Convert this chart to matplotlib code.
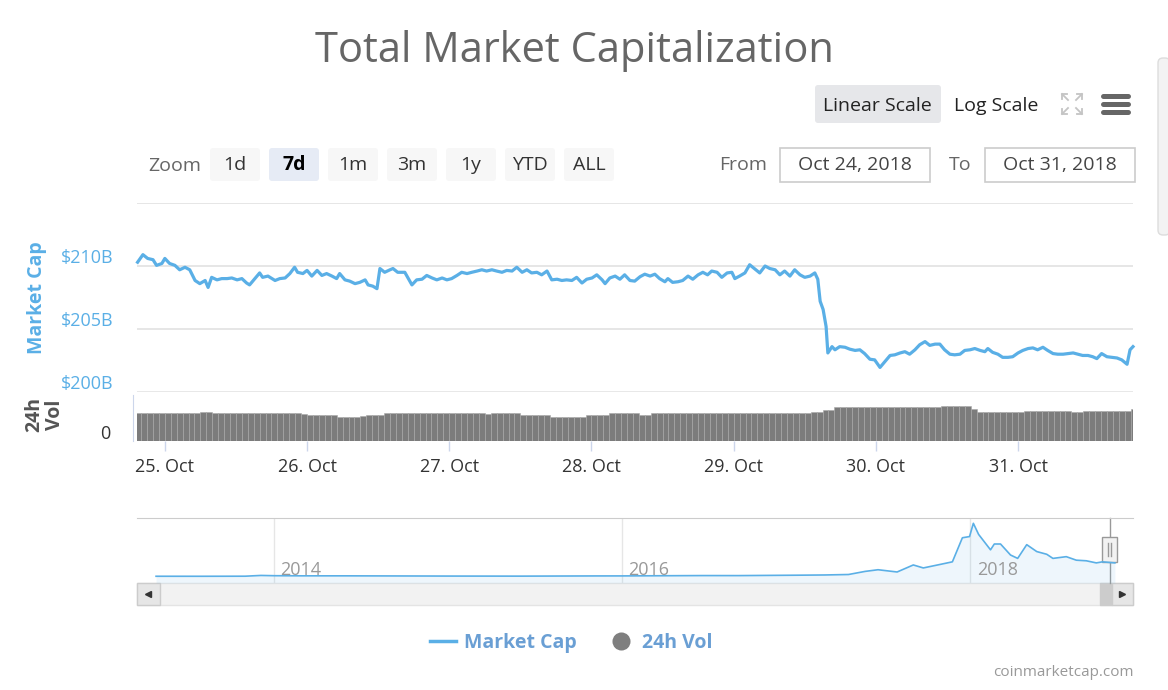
import numpy as np
import pandas as pd
import matplotlib
matplotlib.use("Agg")
import matplotlib.pyplot as plt
import matplotlib.dates as mdates
import matplotlib.transforms as mtrans
from matplotlib.patches import FancyBboxPatch, Rectangle

# ---------------- DATA ----------------
# market cap (billion USD), time in hours from 25 Oct 2018 00:00
mc_hours = [
    -4.6, -3.7, -2.9, -2.0, -1.4, -0.5, 0.0, 0.8, 1.7, 2.5,
    3.4, 4.2, 5.1, 5.9, 6.8, 7.3, 7.9, 8.8, 9.6, 10.5,
    11.3, 12.2, 13.0, 13.8, 14.3, 15.2, 16.0, 16.5, 17.4, 18.6,
    19.4, 20.3, 21.1, 21.9, 22.4, 23.3, 24.0, 24.8, 25.7, 26.5,
    27.3, 28.2, 29.0, 29.5, 30.4, 31.2, 32.1, 32.9, 33.8, 34.3,
    35.1, 35.8, 36.3, 37.1, 38.0, 38.5, 39.3, 40.5, 41.7, 42.5,
    43.4, 44.2, 45.1, 45.9, 46.8, 47.6, 48.4, 49.3, 50.1, 51.0,
    51.8, 52.7, 53.5, 54.3, 55.2, 56.0, 56.9, 57.7, 58.6, 59.4,
    60.3, 61.1, 61.9, 62.8, 63.6, 64.5, 65.3, 66.2, 67.0, 67.8,
    68.7, 69.5, 70.4, 71.2, 72.1, 72.9, 73.8, 74.3, 75.1, 76.0,
    76.8, 77.6, 78.5, 79.3, 80.2, 81.0, 81.9, 82.7, 83.5, 84.4,
    84.9, 85.7, 86.6, 87.4, 88.3, 89.1, 90.0, 90.8, 91.6, 92.3,
    93.2, 94.0, 94.9, 95.7, 96.2, 97.0, 97.9, 98.7, 99.6, 100.4,
    101.3, 102.1, 103.0, 103.8, 104.6, 105.5, 106.3, 107.2, 108.0, 108.9,
    109.7, 110.2, 110.6, 111.1, 111.6, 111.9, 112.6, 113.1, 113.9, 114.8,
    115.6, 116.5, 117.3, 118.1, 119.0, 119.8, 120.7, 121.5, 122.4, 123.2,
    124.1, 124.9, 125.7, 126.6, 127.4, 128.3, 129.1, 130.0, 130.8, 131.6,
    132.5, 133.3, 134.2, 135.0, 135.9, 136.7, 137.6, 138.4, 138.9, 139.7,
    140.6, 141.4, 142.3, 143.1, 144.0, 144.8, 145.7, 146.5, 147.3, 148.2,
    149.0, 149.9, 150.7, 151.6, 152.4, 153.3, 154.1, 154.9, 155.8, 156.6,
    157.3, 158.1, 159.0, 159.8, 160.7, 161.5, 162.4, 162.9, 163.4,
]
mc_values = [
    210.3, 210.9, 210.6, 210.5, 210.05, 210.2, 210.6, 210.2, 210.05, 209.7,
    209.9, 209.7, 208.85, 208.6, 208.85, 208.3, 209.1, 208.9, 209.0, 209.0,
    209.05, 208.9, 209.0, 208.65, 208.5, 209.0, 209.45, 209.1, 209.2, 208.85,
    209.0, 209.05, 209.4, 209.9, 209.5, 209.4, 209.65, 209.2, 209.65, 209.25,
    209.4, 209.2, 209.0, 209.4, 208.9, 208.8, 208.6, 208.7, 208.9, 208.5,
    208.4, 208.2, 209.8, 209.5, 209.7, 209.8, 209.5, 209.5, 208.5, 208.9,
    208.95, 209.25, 209.05, 208.9, 209.05, 208.9, 209.0, 209.25, 209.5, 209.4,
    209.5, 209.6, 209.7, 209.6, 209.7, 209.6, 209.5, 209.65, 209.6, 209.9,
    209.5, 209.7, 209.45, 209.5, 209.3, 209.6, 208.9, 208.95, 208.85, 208.9,
    208.85, 209.1, 208.65, 208.95, 209.05, 209.3, 208.9, 208.6, 209.05, 209.2,
    208.95, 209.3, 208.85, 208.8, 209.15, 209.35, 209.2, 209.35, 209.0, 208.75,
    209.0, 208.7, 208.75, 208.85, 209.2, 208.95, 209.3, 209.5, 209.3, 209.6,
    209.5, 209.1, 209.45, 209.5, 209.0, 209.2, 209.45, 210.1, 209.75, 209.45,
    210.0, 209.8, 209.7, 209.3, 209.6, 209.2, 209.7, 209.3, 209.1, 209.2,
    209.45, 208.95, 207.2, 206.55, 205.2, 203.1, 203.6, 203.35, 203.6, 203.55,
    203.4, 203.3, 203.35, 203.05, 202.6, 202.55, 201.95, 202.4, 202.9, 202.95,
    203.1, 203.2, 203.0, 203.35, 203.75, 204.0, 203.7, 203.8, 203.8, 203.35,
    203.0, 202.95, 203.0, 203.3, 203.35, 203.45, 203.3, 203.2, 203.45, 203.15,
    203.0, 202.75, 202.75, 202.8, 203.1, 203.3, 203.45, 203.5, 203.35, 203.55,
    203.3, 203.05, 203.0, 203.0, 203.05, 203.1, 203.0, 202.9, 202.9, 202.8,
    202.65, 203.05, 202.8, 202.75, 202.7, 202.55, 202.2, 203.35, 203.6,
]

# 24h volume (billion USD), hourly from 24 Oct 2018 19:00
vol_values = [
    12.0, 12.0, 12.1, 12.0, 12.0,
    12.0, 12.0, 12.1, 12.0, 12.0, 12.3, 12.6, 12.6, 12.2, 12.0, 12.0, 12.0,
    12.0, 12.1, 12.0, 12.0, 12.0, 12.0, 12.0, 12.1, 12.0, 12.0, 12.0, 11.6,
    11.3, 11.3, 11.3, 11.2, 11.3, 10.6, 10.6, 10.6, 10.6, 10.7, 11.3, 11.3,
    11.3, 12.0, 12.0, 12.0, 12.0, 12.0, 12.0, 12.0, 12.0, 12.0, 12.0, 12.0,
    12.0, 12.0, 12.0, 12.0, 12.0, 12.0, 11.8, 12.0, 12.0, 12.0, 12.0, 12.0,
    11.3, 11.3, 11.3, 11.3, 11.3, 10.6, 10.6, 10.6, 10.6, 10.6, 10.6, 11.3,
    11.3, 11.3, 11.3, 12.0, 12.0, 12.0, 12.0, 12.0, 11.3, 11.3, 12.0, 12.0,
    12.0, 12.0, 12.0, 12.0, 12.0, 12.0, 12.0, 12.0, 12.0, 12.0, 12.0, 12.0,
    12.0, 12.0, 12.0, 12.0, 12.0, 12.0, 12.0, 12.0, 12.0, 12.0, 12.0, 12.0,
    12.0, 12.7, 12.7, 13.5, 13.5, 14.7, 14.7, 14.7, 14.7, 14.7, 14.7, 14.7,
    14.7, 14.7, 14.7, 14.7, 14.7, 14.7, 14.7, 14.7, 14.7, 14.7, 14.7, 15.3,
    15.3, 15.4, 15.3, 15.2, 13.8, 12.5, 12.5, 12.5, 12.5, 12.5, 12.5, 12.5,
    12.5, 13.2, 13.2, 13.2, 13.2, 13.2, 13.2, 13.2, 13.2, 12.7, 12.7, 13.2,
    13.2, 13.2, 13.2, 13.2, 13.2, 13.2, 13.2, 13.9,
]

# navigator: whole history of total market cap (billion USD)
nav_dates = [
    "2013-04-28", "2013-08-01", "2013-11-01", "2013-12-04", "2014-01-01",
    "2014-03-01", "2014-06-01", "2014-09-01", "2015-01-01", "2015-06-01",
    "2015-11-05", "2016-01-01", "2016-06-18", "2016-09-01", "2017-01-01",
    "2017-03-01", "2017-04-20", "2017-05-25", "2017-06-21", "2017-07-31",
    "2017-09-03", "2017-09-24", "2017-10-28", "2017-11-24", "2017-12-15",
    "2017-12-30", "2018-01-07", "2018-01-18", "2018-02-12", "2018-02-20",
    "2018-03-05", "2018-03-26", "2018-04-10", "2018-04-29", "2018-05-20",
    "2018-06-10", "2018-06-23", "2018-07-21", "2018-08-11", "2018-09-01",
    "2018-09-22", "2018-10-05", "2018-10-31",
]
nav_values = [
    1.6, 1.3, 2.5, 14, 10,
    8, 8, 6.5, 4.5, 3.5,
    6.5, 6.8, 12, 11.5, 17.5,
    21, 28, 75, 100, 66,
    172, 127, 178, 219, 582,
    600, 800, 633, 400, 488,
    488, 322, 271, 478, 374,
    333, 271, 297, 244, 235,
    203, 219, 203,
]

day_ticks = ["2018-10-25", "2018-10-26", "2018-10-27", "2018-10-28",
             "2018-10-29", "2018-10-30", "2018-10-31"]
mc_gridlines = [200, 205, 210, 215]
mc_labels = [200, 205, 210]
year_ticks = ["2014", "2016", "2018"]
zoom_buttons = ["1d", "7d", "1m", "3m", "1y", "YTD", "ALL"]

BLUE = "#5aafe6"
W, H = 1168, 690
DY = 2  # small nudge for Open Sans vertical centering


def box(x0, y0, x1, y1):
    return [x0 / W, 1 - y1 / H, (x1 - x0) / W, (y1 - y0) / H]


def rbox(ax, x0, y0, x1, y1, fc, ec="none", r=3, lw=1.0):
    ax.add_patch(FancyBboxPatch((x0, y0), x1 - x0, y1 - y0,
                                boxstyle=f"round,pad=0,rounding_size={r}",
                                fc=fc, ec=ec, lw=lw))


def main():
    plt.rcParams["font.family"] = ["Open Sans", "DejaVu Sans"]
    fig = plt.figure(figsize=(W / 100, H / 100), dpi=100)

    # ---------------- page furniture ----------------
    ui = fig.add_axes([0, 0, 1, 1], zorder=0)
    ui.set_xlim(0, W)
    ui.set_ylim(H, 0)
    ui.axis("off")

    ui.text(574, 47 + 4, "Total Market Capitalization", fontsize=30,
            color="#666666", ha="center", va="center")

    rbox(ui, 815, 85, 941, 123, "#e6e7ea")
    ui.text(877, 104 + DY, "Linear Scale", fontsize=14, color="#222222",
            ha="center", va="center")
    ui.text(996, 104 + DY, "Log Scale", fontsize=14, color="#222222",
            ha="center", va="center")
    cx, cy = 1072, 104
    for sx in (-1, 1):
        for sy in (-1, 1):
            ui.plot([cx + sx * 10, cx + sx * 4], [cy + sy * 10, cy + sy * 4],
                    color="#c4c4c4", lw=1.3)
            ui.plot([cx + sx * 10, cx + sx * 10, cx + sx * 5],
                    [cy + sy * 5, cy + sy * 10, cy + sy * 10],
                    color="#c4c4c4", lw=1.3)
    for yy in (96, 104, 112):
        ui.plot([1103, 1128], [yy, yy], color="#666666", lw=3.6,
                solid_capstyle="round")

    ui.text(175, 164 + DY, "Zoom", fontsize=14, color="#666666",
            ha="center", va="center")
    for i, lab in enumerate(zoom_buttons):
        xc = 235 + 59 * i
        sel = lab == "7d"
        rbox(ui, xc - 25, 148, xc + 25, 181, "#e6ebf5" if sel else "#f7f7f7")
        ui.text(xc, 163 + DY, lab, fontsize=14, ha="center", va="center",
                color="#000000" if sel else "#333333",
                fontweight="bold" if sel else "normal")

    ui.text(743, 163 + DY, "From", fontsize=14, color="#666666",
            ha="center", va="center")
    ui.add_patch(Rectangle((780, 148), 150, 34, fc="white", ec="#cccccc", lw=1.2))
    ui.text(855, 163 + DY, "Oct 24, 2018", fontsize=14, color="#444444",
            ha="center", va="center")
    ui.text(960, 163 + DY, "To", fontsize=14, color="#666666",
            ha="center", va="center")
    ui.add_patch(Rectangle((985, 148), 150, 34, fc="white", ec="#cccccc", lw=1.2))
    ui.text(1060, 163 + DY, "Oct 31, 2018", fontsize=14, color="#444444",
            ha="center", va="center")

    rbox(ui, 1158, 58, 1170, 235, "#f3f3f3", ec="#dddddd", r=5)

    ui.text(37, 298, "Market Cap", rotation=90, fontsize=14, fontweight="bold",
            color=BLUE, ha="center", va="center")
    ui.text(45, 415, "24h\nVol", rotation=90, fontsize=14, fontweight="bold",
            color="#555555", ha="center", va="center", linespacing=1.05)
    ui.text(110, 432 + DY, "0", fontsize=13, color="#333333",
            ha="right", va="center")

    # ---------------- market cap panel ----------------
    t0 = pd.Timestamp("2018-10-25")
    times = t0 + pd.to_timedelta(mc_hours, unit="h")
    xlim = (times[0] - pd.Timedelta(minutes=6), times[-1])

    ax = fig.add_axes(box(137, 203, 1133, 392), zorder=2)
    ax.set_facecolor("none")
    ax.set_xlim(xlim)
    ax.set_ylim(200, 215)
    for s in ax.spines.values():
        s.set_visible(False)
    ax.set_xticks([])
    ax.set_yticks([])
    for g in mc_gridlines:
        ax.axhline(g, color="#e6e6e6", lw=2.0 if g == 200 else 1.4, zorder=0)
    ax.plot(times, mc_values, color=BLUE, lw=2.3, solid_joinstyle="round",
            zorder=3, clip_on=False)
    lab_tr = mtrans.blended_transform_factory(ax.transAxes, ax.transData)
    for v in mc_labels:
        ax.text(-0.024, v + 0.65, f"${v}B", transform=lab_tr, fontsize=13,
                color=BLUE, ha="right", va="center")

    # ---------------- volume panel ----------------
    vol_times = pd.date_range("2018-10-24 19:00", periods=len(vol_values), freq="h")
    axv = fig.add_axes(box(137, 395, 1133, 441), zorder=2)
    axv.set_facecolor("none")
    axv.bar(vol_times, vol_values, width=1 / 24, align="edge", color="#7c7c7c",
            edgecolor="#a8a8a8", lw=0.4)
    axv.set_xlim(xlim)
    axv.set_ylim(0, 20)
    for k in ("top", "right", "bottom"):
        axv.spines[k].set_visible(False)
    axv.spines["left"].set_position(("outward", 3))
    axv.spines["left"].set_color("#ccd6eb")
    axv.set_yticks([])
    axv.set_xticks(pd.to_datetime(day_ticks))
    axv.xaxis.set_major_formatter(mdates.DateFormatter("%d. %b"))
    axv.tick_params(axis="x", length=7, width=1, color="#ccd6eb",
                    labelsize=13, labelcolor="#333333", pad=5)

    # ---------------- navigator ----------------
    axn = fig.add_axes(box(137, 518, 1133, 583), zorder=2)
    axn.set_facecolor("none")
    nd = pd.to_datetime(nav_dates)
    axn.fill_between(nd, nav_values, -100, color=BLUE, alpha=0.1, lw=0)
    axn.plot(nd, nav_values, color=BLUE, lw=1.2)
    axn.set_xlim(pd.Timestamp("2013-03-19"), pd.Timestamp("2018-12-08"))
    axn.set_ylim(-100, 880)
    for k in ("left", "right", "bottom"):
        axn.spines[k].set_visible(False)
    axn.spines["top"].set_color("#cccccc")
    axn.set_xticks([])
    axn.set_yticks([])
    yr_tr = mtrans.blended_transform_factory(axn.transData, axn.transAxes)
    yr_tr = mtrans.offset_copy(yr_tr, fig=fig, x=4.5, units="points")
    for yr in year_ticks:
        d = pd.Timestamp(f"{yr}-01-01")
        axn.axvline(d, color="#e6e6e6", lw=1, zorder=0)
        axn.text(d, 0.2, yr, transform=yr_tr, fontsize=13, color="#999999",
                 ha="left", va="center")

    # selected range handle + scrollbar
    ui.plot([1110, 1110], [518, 583], color="#999999", lw=1, zorder=5)
    ui.add_patch(Rectangle((1102, 537), 15, 25, fc="#f2f2f2", ec="#999999",
                           lw=1, zorder=6))
    ui.plot([1108, 1108], [543, 556], color="#999999", lw=1, zorder=7)
    ui.plot([1111, 1111], [543, 556], color="#999999", lw=1, zorder=7)

    ui.add_patch(Rectangle((137, 583), 996, 22, fc="#f2f2f2", ec="#e4e4e4", lw=1))
    ui.add_patch(Rectangle((137, 583), 23, 22, fc="#e6e6e6", ec="#cccccc", lw=1))
    ui.add_patch(Rectangle((1100, 583), 12, 22, fc="#cccccc", ec="#cccccc", lw=1))
    ui.add_patch(Rectangle((1112, 583), 21, 22, fc="#e6e6e6", ec="#cccccc", lw=1))
    ui.plot(148, 594, marker="<", ms=4, color="#333333")
    ui.plot(1122, 594, marker=">", ms=4, color="#333333")

    # ---------------- legend + credit ----------------
    ui.plot([430, 456], [641, 641], color=BLUE, lw=2.5)
    ui.text(464, 641 + DY, "Market Cap", fontsize=14, fontweight="bold",
            color="#6a9fd4", ha="left", va="center")
    ui.plot(621, 641, marker="o", ms=13, color="#7f7f7f", mec="none")
    ui.text(642, 641 + DY, "24h Vol", fontsize=14, fontweight="bold",
            color="#6a9fd4", ha="left", va="center")
    ui.text(1134, 670 + DY, "coinmarketcap.com", fontsize=11, color="#999999",
            ha="right", va="center")

    fig.savefig("out.png", dpi=100)


if __name__ == "__main__":
    main()
